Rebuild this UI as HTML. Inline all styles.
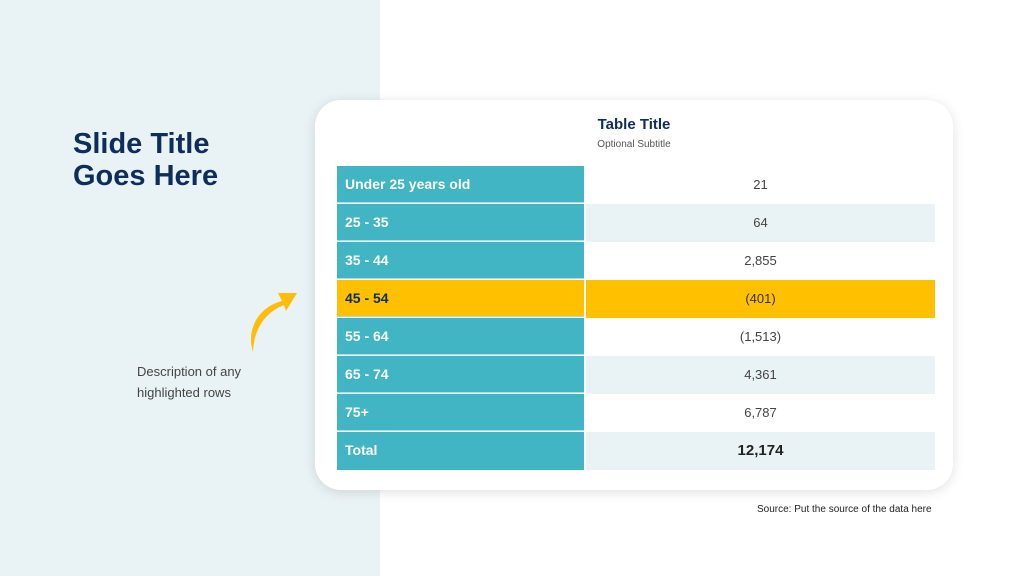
<!DOCTYPE html>
<html><head><meta charset="utf-8"><style>
body{margin:0;width:1024px;height:576px;position:relative;background:#fff;font-family:"Liberation Sans",sans-serif;overflow:hidden}
.left{position:absolute;left:0;top:0;width:380px;height:576px;background:#e9f2f5}
.title{position:absolute;left:73px;top:128px;font-size:29px;font-weight:bold;color:#0d2d5a;line-height:32px}
.desc{position:absolute;left:137px;top:361px;font-size:13px;color:#444;line-height:21px}
.card{position:absolute;left:315px;top:100px;width:638px;height:390px;background:#fff;border-radius:26px;box-shadow:0 2px 12px rgba(0,0,0,0.12)}
.tt{position:absolute;left:315px;width:638px;top:116px;text-align:center;font-size:15px;font-weight:bold;color:#0d2d5a}
.st{position:absolute;left:315px;width:638px;top:139px;text-align:center;font-size:10px;color:#555}
.row{position:absolute;left:337px;width:598px;height:38px}
.row .a{position:absolute;left:0;top:0;width:247px;height:37px;background:#41b5c3;color:#fff;font-weight:bold;font-size:14px;line-height:37px;padding-left:8px;box-sizing:border-box;border-bottom:1px solid #a8dde3}
.row .b{position:absolute;left:249px;top:0;width:349px;height:38px;text-align:center;line-height:38px;font-size:13px;color:#444}
.alt .b{background:#e9f2f5}
.hl .a{background:#ffc000;color:#0d2d5a}.hl .b{background:#ffc000;color:#333}
.src{position:absolute;left:757px;top:504px;font-size:10px;color:#222}
</style></head><body>
<div class="left"></div>
<div class="title">Slide Title<br>Goes Here</div>
<div class="desc">Description of any<br>highlighted rows</div>
<svg style="position:absolute;left:240px;top:285px" width="60" height="75"><path d="M13 67 C6 45 18 22 42 16 L38 8 L57 8 L46 26 L44 20 C24 28 14 45 13 67Z" fill="#ffbc0a"/></svg>
<div class="card"></div>
<div class="tt">Table Title</div>
<div class="st">Optional Subtitle</div>
<div class="row" style="top:166px"><div class="a">Under 25 years old</div><div class="b">21</div></div>
<div class="row alt" style="top:204px"><div class="a">25 - 35</div><div class="b">64</div></div>
<div class="row" style="top:242px"><div class="a">35 - 44</div><div class="b">2,855</div></div>
<div class="row hl" style="top:280px"><div class="a">45 - 54</div><div class="b">(401)</div></div>
<div class="row" style="top:318px"><div class="a">55 - 64</div><div class="b">(1,513)</div></div>
<div class="row alt" style="top:356px"><div class="a">65 - 74</div><div class="b">4,361</div></div>
<div class="row" style="top:394px"><div class="a">75+</div><div class="b">6,787</div></div>
<div class="row alt" style="top:432px"><div class="a" style="border-bottom:none;height:38px">Total</div><div class="b" style="font-weight:bold;font-size:15px;color:#222">12,174</div></div>
<div class="src">Source: Put the source of the data here</div>
</body></html>
